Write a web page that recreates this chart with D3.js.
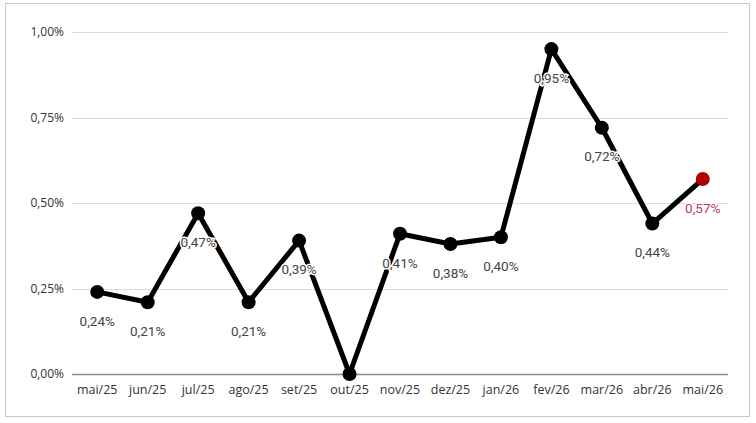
<!DOCTYPE html>
<html>
<head>
<meta charset="utf-8">
<script src="https://cdn.jsdelivr.net/npm/d3@7"></script>
<style>
  body { margin: 0; background: #fff; }
  svg { display: block; }
</style>
</head>
<body>
<div id="chart"></div>
<script>
var months = ["mai/25", "jun/25", "jul/25", "ago/25", "set/25", "out/25", "nov/25",
    "dez/25", "jan/26", "fev/26", "mar/26", "abr/26", "mai/26"];
var values = [0.24, 0.21, 0.47, 0.21, 0.39, 0.00, 0.41, 0.38, 0.40, 0.95, 0.72, 0.44, 0.57];
var yTicks = [0, 0.25, 0.5, 0.75, 1.0];

var width = 756, height = 423;
var margin = { top: 32, right: 28, bottom: 49, left: 72 };

var svg = d3.select("#chart").append("svg")
    .attr("width", width)
    .attr("height", height);

// outer frame
svg.append("rect")
    .attr("x", 5.5).attr("y", 3.5)
    .attr("width", 744).attr("height", 413)
    .attr("fill", "#fff")
    .attr("stroke", "#c8c8c8")
    .attr("stroke-width", 1);

var x = d3.scaleBand()
    .domain(months)
    .range([margin.left, width - margin.right]);

var y = d3.scaleLinear()
    .domain([0, 1])
    .range([height - margin.bottom, margin.top]);

function fmt(v) {
    return v.toFixed(2).replace(".", ",") + "%";
}

// grid lines
svg.append("g")
    .selectAll("line")
    .data(yTicks)
    .enter().append("line")
    .attr("x1", margin.left)
    .attr("x2", width - margin.right)
    .attr("y1", function (d) { return Math.round(y(d)) + 0.5; })
    .attr("y2", function (d) { return Math.round(y(d)) + 0.5; })
    .attr("stroke", function (d) { return d == 0 ? "#8a8a8a" : "#dcdcdc"; })
    .attr("stroke-width", function (d) { return d == 0 ? 1.5 : 1.2; });

// y tick labels
svg.append("g")
    .selectAll("text")
    .data(yTicks)
    .enter().append("text")
    .attr("x", margin.left - 8)
    .attr("y", function (d) { return y(d); })
    .attr("dy", "0.35em")
    .attr("text-anchor", "end")
    .attr("font-family", "Open Sans, sans-serif")
    .attr("font-size", 12)
    .attr("fill", "#333")
    .text(fmt);

// x tick labels
svg.append("g")
    .selectAll("text")
    .data(months)
    .enter().append("text")
    .attr("x", function (d) { return x(d) + x.bandwidth() / 2; })
    .attr("y", height - margin.bottom + 16)
    .attr("dy", "0.35em")
    .attr("text-anchor", "middle")
    .attr("font-family", "Open Sans, sans-serif")
    .attr("font-size", 12.5)
    .attr("fill", "#333")
    .text(function (d) { return d; });

var points = months.map(function (m, i) { return { month: m, value: values[i], last: i == months.length - 1 }; });

var line = d3.line()
    .x(function (d) { return x(d.month) + x.bandwidth() / 2; })
    .y(function (d) { return y(d.value); });

svg.append("path")
    .datum(points)
    .attr("d", line)
    .attr("fill", "none")
    .attr("stroke", "#000")
    .attr("stroke-width", 5)
    .attr("stroke-linejoin", "round");

svg.append("g")
    .selectAll("circle")
    .data(points)
    .enter().append("circle")
    .attr("cx", function (d) { return x(d.month) + x.bandwidth() / 2; })
    .attr("cy", function (d) { return y(d.value); })
    .attr("r", 7)
    .attr("fill", function (d) { return d.last ? "#b00000" : "#000"; });

// value labels (no label on zero)
svg.append("g")
    .selectAll("text")
    .data(points.filter(function (d) { return d.value > 0; }))
    .enter().append("text")
    .attr("x", function (d) { return x(d.month) + x.bandwidth() / 2; })
    .attr("y", function (d) { return y(d.value) + 29; })
    .attr("dy", "0.35em")
    .attr("text-anchor", "middle")
    .attr("font-family", "Roboto, sans-serif")
    .attr("font-size", 13.5)
    .attr("fill", function (d) { return d.last ? "#b5404c" : "#444"; })
    .attr("stroke", "#fff")
    .attr("stroke-width", 3)
    .attr("paint-order", "stroke")
    .text(function (d) { return fmt(d.value); });
</script>
</body>
</html>
